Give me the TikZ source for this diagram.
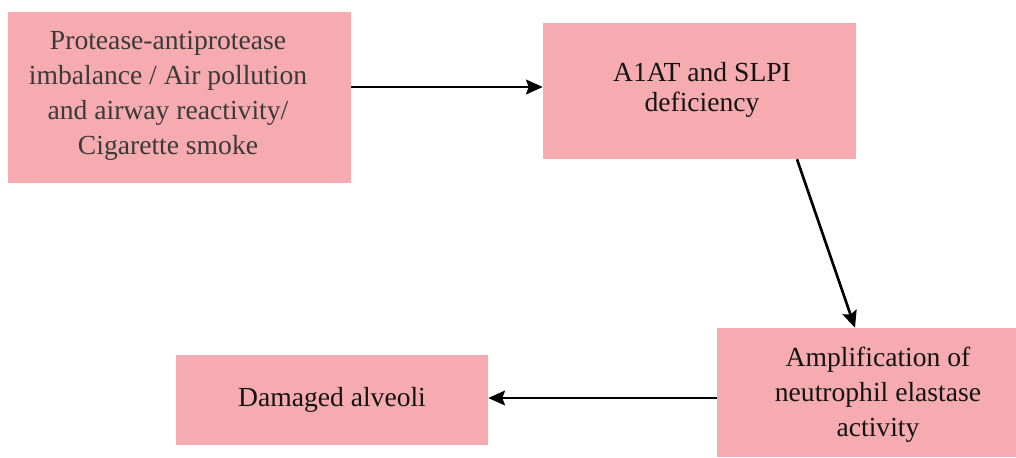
\documentclass[tikz,border=0pt]{standalone}
\usepackage{fontspec}
\setmainfont{Liberation Serif}
\usetikzlibrary{arrows.meta}
\definecolor{boxpink}{HTML}{F5ABAF}
\definecolor{txtgrey}{HTML}{3A3A3A}
\definecolor{txtdark}{HTML}{141414}
\tikzset{
  pinkbox/.style={fill=boxpink, draw=none, inner sep=0pt, align=center,
    font=\fontsize{20.7}{26.2}\selectfont, text=txtdark},
  arr/.style={line width=2pt, -{Stealth[length=12.5pt,width=11pt,inset=2pt]}, black},
}
\begin{document}
\begin{tikzpicture}[x=0.75pt,y=-0.75pt]
\useasboundingbox (0,0) rectangle (1016,457);
% boxes
\node[pinkbox, minimum width=343*0.75pt, minimum height=171*0.75pt] (b1) at (179.5,97.5) {};
\node[text=txtgrey, font=\fontsize{20.7}{26.2}\selectfont, align=center] (t1) at (168,96) {Protease-antiprotease\\imbalance / Air pollution\\and airway reactivity/\\Cigarette smoke};
\node[pinkbox, minimum width=313*0.75pt, minimum height=136*0.75pt] (b2) at (699.5,91) {};
\node[text=txtdark, font=\fontsize{20.7}{22.5}\selectfont, align=center] (t2) at (702,90) {A1AT and SLPI\\deficiency};
\node[pinkbox, minimum width=299*0.75pt, minimum height=129*0.75pt] (b3) at (866.5,392.5) {};
\node[text=txtdark, font=\fontsize{20.7}{26.2}\selectfont, align=center] (t3) at (878,395) {Amplification of\\neutrophil elastase\\activity};
\node[pinkbox, minimum width=312*0.75pt, minimum height=90*0.75pt] (b4) at (332,400) {Damaged alveoli};
% connectors
\coordinate (a1s) at (b1.east |- 0,87);
\coordinate (a1e) at (b2.west |- 0,87);
\draw[arr] (a1s) -- (a1e);
\coordinate (a2s) at ([xshift=97.5*0.75pt]b2.south);
\coordinate (a2e) at ([xshift=-11.5*0.75pt]b3.north);
\draw[arr] (a2s) -- (a2e);
\coordinate (a3s) at (b3.west |- 0,398);
\coordinate (a3e) at (b4.east |- 0,398);
\draw[arr] (a3s) -- (a3e);
\end{tikzpicture}
\end{document}
